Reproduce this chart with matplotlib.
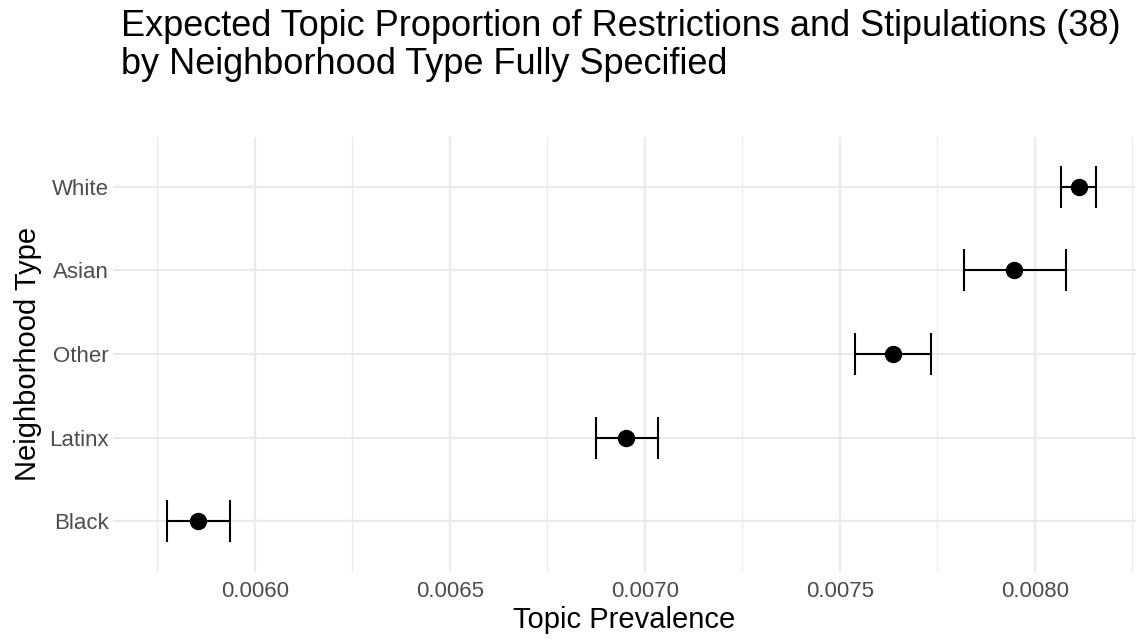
import matplotlib
matplotlib.use("Agg")
import matplotlib.pyplot as plt
from matplotlib.ticker import MultipleLocator, FormatStrFormatter

plt.rcParams['font.family'] = ['Liberation Sans', 'DejaVu Sans']

# data
groups = ['Black', 'Latinx', 'Other', 'Asian', 'White']
estimate = [0.0058546, 0.0069513, 0.0076351, 0.0079469, 0.0081136]
lower = [0.0057751, 0.0068736, 0.0075385, 0.0078179, 0.0080667]
upper = [0.0059367, 0.0070326, 0.0077333, 0.0080795, 0.0081572]

fig = plt.figure(figsize=(11.36, 6.41), dpi=100)
ax = fig.add_axes([113 / 1136, 1 - 571.5 / 641, 1023 / 1136, 435 / 641])

ypos = list(range(1, len(groups) + 1))
xerr = [[e - l for e, l in zip(estimate, lower)],
        [u - e for e, u in zip(estimate, upper)]]
ax.errorbar(estimate, ypos, xerr=xerr, fmt='o', color='black', ms=11.5,
            elinewidth=1.5, capsize=15, capthick=1.5, zorder=3)

ax.set_yticks(ypos)
ax.set_yticklabels(groups)
ax.set_ylim(0.4, len(groups) + 0.6)
ax.set_xlim(0.005636, 0.008259)
ax.xaxis.set_major_locator(MultipleLocator(0.0005))
ax.xaxis.set_minor_locator(MultipleLocator(0.00025))
ax.xaxis.set_major_formatter(FormatStrFormatter('%.4f'))

ax.grid(which='major', color='#EBEBEB', linewidth=1.6)
ax.grid(which='minor', axis='x', color='#EBEBEB', linewidth=1.0)
ax.set_axisbelow(True)
for s in ax.spines.values():
    s.set_visible(False)
ax.tick_params(which='both', length=0, labelsize=16, labelcolor='#4D4D4D')
ax.tick_params(axis='x', pad=7)
ax.tick_params(axis='y', pad=3)

ax.set_xlabel('Topic Prevalence', fontsize=21, labelpad=3)
ax.set_ylabel('Neighborhood Type', fontsize=21, labelpad=5)
fig.text(121 / 1136, 1 - 9 / 641,
         'Expected Topic Proportion of Restrictions and Stipulations (38)\n'
         'by Neighborhood Type Fully Specified',
         fontsize=26, va='top', ha='left', linespacing=1.12)

fig.savefig('out.png', dpi=100)
